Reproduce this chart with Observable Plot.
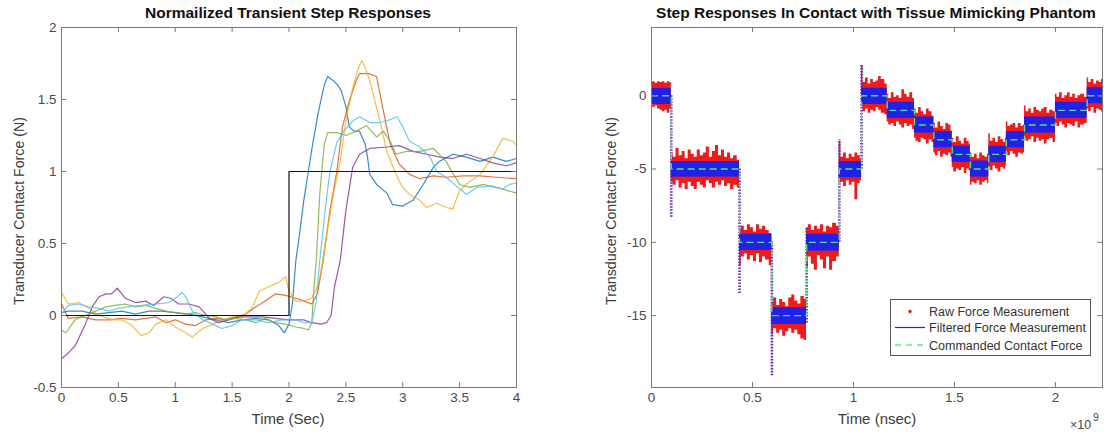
<!DOCTYPE html>
<html><head><meta charset="utf-8">
<script src="https://cdn.jsdelivr.net/npm/d3@7"></script>
<script src="https://cdn.jsdelivr.net/npm/@observablehq/plot@0.6"></script>
<style>
body{margin:0;background:#fff;}
#wrap{position:relative;width:1104px;height:436px;overflow:hidden;font-family:"Liberation Sans",Arial,sans-serif;}
#wrap svg.pl{position:absolute;top:0;}
.t{position:absolute;white-space:nowrap;line-height:1;}
.title{font-weight:bold;font-size:15.5px;color:#111;transform:translate(-50%,-50%);}
.xl{font-size:15px;color:#3c3c3c;transform:translate(-50%,-50%);}
.yl{font-size:14.2px;color:#3c3c3c;transform:translate(-50%,-50%) rotate(-90deg);}
</style>
</head><body>
<div id="wrap">
  <div class="t title" style="left:288px;top:13px">Normailized Transient Step Responses</div>
  <div class="t title" style="left:876px;top:13px">Step Responses In Contact with Tissue Mimicking Phantom</div>
  <div class="t xl" style="left:288px;top:418px">Time (Sec)</div>
  <div class="t xl" style="left:877px;top:418px">Time (nsec)</div>
  <div class="t yl" style="left:19px;top:211px">Transducer Contact Force (N)</div>
  <div class="t yl" style="left:611px;top:211px">Transducer Contact Force (N)</div>
  <div class="t" style="left:1070px;top:419px;font-size:12.5px;color:#4a4a4a">×10</div>
  <div class="t" style="left:1093px;top:412px;font-size:10.5px;color:#4a4a4a">9</div>
</div>
<script>
// ---------- Left chart: normalized transient step responses ----------
const leftXTicks = [0,0.5,1,1.5,2,2.5,3,3.5,4];
const leftYTicks = [-0.5,0,0.5,1,1.5,2];

const stepT = [0,2,2,4];
const stepF = [0,0,1,1];

const blueT = [0,0.06,0.18,0.30,0.42,0.53,0.65,0.77,0.88,1.00,1.12,1.24,1.36,1.47,1.59,1.71,1.82,1.91,1.96,2.00,2.03,2.06,2.09,2.13,2.17,2.21,2.26,2.31,2.34,2.39,2.43,2.46,2.50,2.53,2.57,2.62,2.67,2.69,2.71,2.77,2.86,2.91,3.00,3.09,3.18,3.27,3.32,3.44,3.56,3.68,3.79,3.91,4.00];
const blueF = [0.02,0.03,0.03,0.01,0.02,0.03,0.01,0.03,0.03,0.02,0.01,-0.01,-0.03,-0.05,-0.03,-0.02,-0.03,-0.07,-0.12,-0.06,0.08,0.38,0.55,0.80,1.00,1.20,1.42,1.60,1.66,1.63,1.60,1.56,1.45,1.31,1.28,1.28,1.19,1.10,0.98,0.91,0.85,0.77,0.76,0.80,0.91,1.03,1.07,1.12,1.10,1.07,1.10,1.07,1.09];

const redT = [0,0.06,0.18,0.30,0.42,0.53,0.65,0.74,0.83,0.92,1.00,1.09,1.18,1.27,1.36,1.44,1.53,1.62,1.71,1.79,1.88,1.97,2.06,2.13,2.20,2.25,2.30,2.36,2.42,2.47,2.53,2.59,2.62,2.70,2.77,2.83,2.89,2.97,3.06,3.15,3.27,3.38,3.53,3.68,3.82,4.00];
const redF = [0.08,-0.02,-0.01,-0.03,-0.03,-0.02,-0.03,-0.02,-0.01,-0.05,-0.03,-0.06,-0.07,-0.03,-0.02,-0.03,-0.01,0.01,0.06,0.10,0.15,0.14,0.12,0.10,0.08,0.15,0.38,0.73,1.00,1.31,1.49,1.63,1.68,1.68,1.66,1.42,1.19,1.05,0.98,0.95,0.97,0.96,0.97,0.97,0.96,0.95];

const yelT = [0,0.06,0.15,0.24,0.33,0.45,0.53,0.62,0.70,0.77,0.83,0.92,1.00,1.09,1.15,1.24,1.33,1.41,1.50,1.59,1.68,1.74,1.82,1.91,1.97,2.00,2.06,2.12,2.20,2.25,2.28,2.33,2.39,2.45,2.50,2.56,2.61,2.64,2.67,2.71,2.80,2.86,2.93,2.99,3.06,3.15,3.21,3.30,3.38,3.44,3.50,3.59,3.68,3.79,3.88,3.97,4.00];
const yelF = [0.16,0.08,0.09,0.05,0.00,-0.03,-0.03,-0.07,-0.14,-0.12,-0.06,-0.03,-0.08,-0.12,-0.15,-0.09,-0.06,-0.03,-0.01,-0.01,0.06,0.17,0.20,0.23,0.27,0.17,0.10,0.10,0.12,0.20,0.30,0.56,0.84,1.07,1.35,1.58,1.72,1.77,1.72,1.63,1.35,1.14,1.00,0.90,0.84,0.80,0.75,0.78,0.75,0.74,0.87,0.93,0.98,1.10,1.23,1.21,1.18];

const purT = [0,0.06,0.12,0.21,0.27,0.33,0.39,0.44,0.49,0.56,0.65,0.74,0.81,0.90,0.96,1.03,1.12,1.21,1.30,1.38,1.47,1.56,1.65,1.77,1.88,2.00,2.13,2.20,2.28,2.33,2.37,2.40,2.45,2.50,2.56,2.62,2.71,2.86,2.97,3.09,3.21,3.33,3.44,3.56,3.68,3.79,3.91,4.00];
const purF = [-0.30,-0.26,-0.21,-0.06,0.06,0.13,0.15,0.15,0.19,0.12,0.09,0.10,0.07,0.13,0.12,0.08,0.08,0.06,-0.02,-0.05,-0.03,-0.01,-0.01,-0.01,-0.02,-0.03,-0.03,-0.05,-0.06,-0.05,0.00,0.20,0.38,0.73,1.03,1.12,1.16,1.17,1.18,1.14,1.12,1.10,1.09,1.12,1.09,1.06,1.04,1.06];

const grnT = [0,0.04,0.12,0.21,0.30,0.39,0.47,0.56,0.65,0.74,0.83,0.92,1.00,1.09,1.18,1.27,1.36,1.44,1.53,1.62,1.71,1.79,1.88,1.97,2.06,2.13,2.17,2.20,2.22,2.24,2.27,2.31,2.34,2.42,2.50,2.59,2.68,2.77,2.83,2.89,2.94,3.03,3.15,3.27,3.38,3.50,3.59,3.71,3.82,4.00];
const grnF = [-0.10,-0.12,-0.03,0.00,0.03,0.06,0.07,0.08,0.06,0.07,0.05,0.03,0.02,0.01,0.02,0.00,-0.01,-0.03,-0.02,-0.03,-0.05,-0.02,-0.05,-0.06,-0.08,-0.09,-0.10,-0.05,0.20,0.38,0.84,1.19,1.27,1.27,1.25,1.28,1.32,1.24,1.28,1.21,1.12,1.14,1.14,1.16,1.07,0.91,0.89,0.91,0.89,0.85];

const cyaT = [0,0.06,0.15,0.24,0.33,0.42,0.50,0.59,0.71,0.83,0.94,1.02,1.06,1.10,1.15,1.24,1.33,1.41,1.50,1.59,1.71,1.82,1.94,2.06,2.13,2.20,2.24,2.27,2.32,2.36,2.42,2.48,2.56,2.62,2.71,2.80,2.89,2.95,3.00,3.06,3.15,3.24,3.30,3.38,3.47,3.56,3.65,3.77,3.88,3.94,4.00];
const cyaF = [0.01,0.07,0.08,0.06,0.05,0.03,0.05,0.06,0.07,0.08,0.09,0.13,0.16,0.12,0.03,-0.03,-0.06,-0.09,-0.07,-0.03,-0.03,-0.05,-0.03,-0.03,-0.05,-0.05,0.10,0.38,0.75,1.00,1.20,1.28,1.35,1.38,1.34,1.34,1.36,1.38,1.31,1.21,1.17,1.10,1.00,0.96,0.90,0.84,0.89,0.90,0.88,0.91,0.92];

const seriesColors = ["#0072BD","#D95319","#EDB120","#7E2F8E","#77AC30","#4DBEEE"];

// ---------- Right chart: step responses in contact with phantom (time in 1e9 nsec) ----------
const rightXTicks = [0,0.5,1,1.5,2];
const rightYTicks = [-15,-10,-5,0];

// commanded contact force (plateau start times, levels)
const cmdT = [0,0.098,0.436,0.596,0.768,0.930,1.040,1.167,1.302,1.398,1.489,1.579,1.670,1.757,1.847,2.000,2.157,2.233];
const cmdF = [0,-5,-10,-15,-10,-5,0,-1,-2,-3,-4,-5,-4,-3,-2,-1,0,0];

// filtered force band per plateau (upper / lower extent)
const filtHi = [0.5,-4.5,-9.45,-14.45,-9.45,-4.5,0.5,-0.45,-1.45,-2.45,-3.45,-4.45,-3.45,-2.45,-1.45,-0.45,0.55];
const filtLo = [-0.6,-5.55,-10.55,-15.6,-10.6,-5.6,-0.6,-1.55,-2.55,-3.55,-4.55,-5.55,-4.55,-3.55,-2.55,-1.55,-0.55];

// raw force measurement envelope
const rawT = [
  0.000,0.012,0.024,0.036,0.048,0.060,0.072,0.084,0.097,
  0.099,0.114,0.129,0.144,0.159,0.174,0.189,0.204,0.219,0.234,0.249,0.264,0.279,0.294,0.309,0.324,0.339,0.354,0.369,0.384,0.399,0.414,0.435,
  0.437,0.452,0.467,0.482,0.497,0.512,0.527,0.542,0.557,0.572,0.594,
  0.597,0.612,0.627,0.642,0.657,0.672,0.687,0.702,0.717,0.732,0.747,0.766,
  0.769,0.784,0.799,0.814,0.829,0.844,0.859,0.874,0.889,0.904,0.928,
  0.931,0.944,0.958,0.972,0.986,1.000,1.014,1.028,1.039,
  1.041,1.053,1.066,1.079,1.092,1.105,1.118,1.131,1.144,1.166,
  1.168,1.181,1.194,1.207,1.220,1.233,1.246,1.259,1.272,1.285,1.301,
  1.303,1.316,1.329,1.342,1.355,1.368,1.381,1.397,
  1.399,1.412,1.425,1.438,1.451,1.464,1.477,1.488,
  1.490,1.503,1.516,1.529,1.542,1.555,1.568,1.578,
  1.580,1.593,1.606,1.619,1.632,1.645,1.658,1.669,
  1.671,1.684,1.697,1.710,1.723,1.736,1.749,1.756,
  1.758,1.771,1.784,1.797,1.810,1.823,1.836,1.846,
  1.848,1.861,1.874,1.887,1.900,1.913,1.926,1.939,1.952,1.965,1.978,1.999,
  2.001,2.014,2.027,2.040,2.053,2.066,2.079,2.092,2.105,2.118,2.131,2.156,
  2.158,2.171,2.184,2.197,2.210,2.223,2.233];
const rawHi = [
  0.90,0.95,0.85,0.95,0.90,0.95,0.85,0.95,0.90,
  -3.9,-4.2,-3.6,-4.1,-3.8,-4.3,-3.7,-4.0,-4.2,-3.7,-4.1,-3.9,-3.5,-4.2,-3.8,-3.4,-4.1,-3.7,-4.2,-3.9,-4.3,-4.1,-4.4,
  -9.1,-8.9,-9.2,-8.8,-9.0,-9.3,-8.8,-9.1,-8.9,-9.2,-9.4,
  -14.2,-13.8,-14.3,-13.9,-14.1,-14.4,-13.8,-13.6,-14.0,-14.2,-13.7,-13.9,
  -9.0,-8.8,-9.2,-8.9,-9.1,-8.8,-9.3,-8.9,-9.0,-8.7,-8.9,
  -3.1,-4.2,-3.9,-4.3,-4.0,-4.2,-3.9,-4.1,-4.3,
  2.0,0.9,1.2,0.8,1.1,0.9,1.0,1.3,1.1,0.8,
  0.1,-0.2,0.2,-0.1,0.0,-0.2,0.4,0.1,-0.1,0.2,-0.2,
  -0.9,-1.2,-0.8,-1.1,-1.3,-0.9,-1.1,-1.4,
  -1.9,-2.2,-1.8,-2.1,-2.3,-1.9,-2.0,-2.4,
  -2.9,-3.2,-2.8,-3.1,-3.3,-2.9,-3.1,-3.3,
  -3.9,-4.2,-4.0,-4.3,-3.9,-4.1,-4.2,-4.0,
  -2.6,-3.1,-2.9,-3.2,-2.8,-3.0,-3.2,-2.9,
  -1.8,-2.1,-2.0,-1.9,-2.2,-1.9,-2.1,-2.0,
  -0.7,-1.1,-0.9,-1.2,-0.8,-1.0,-1.1,-0.9,-0.8,-1.2,-1.0,-1.1,
  0.1,-0.1,0.2,-0.2,0.0,0.2,-0.1,0.1,-0.2,0.0,0.1,-0.1,
  1.2,0.9,1.1,0.8,1.0,0.9,1.1];
const rawLo = [
  -0.6,-0.8,-0.7,-0.9,-1.0,-1.1,-1.0,-1.2,-0.9,
  -5.9,-6.1,-5.8,-6.3,-6.0,-6.4,-5.9,-6.2,-6.4,-5.9,-6.1,-6.3,-5.8,-6.0,-6.3,-5.9,-6.1,-5.8,-6.2,-6.0,-6.4,-6.1,-6.3,
  -11.6,-11.0,-10.8,-11.2,-10.9,-11.3,-10.8,-11.4,-11.0,-11.2,-11.6,
  -16.3,-15.9,-16.2,-16.0,-16.4,-16.1,-15.9,-16.2,-16.0,-16.3,-16.6,-16.7,
  -11.8,-11.0,-11.5,-11.9,-10.9,-11.2,-11.8,-11.0,-11.9,-11.3,-11.0,
  -6.0,-5.9,-6.2,-5.8,-6.1,-5.9,-7.1,-6.0,-5.8,
  -0.8,-1.1,-0.9,-1.2,-1.0,-1.1,-0.8,-1.0,-1.2,-1.3,
  -1.8,-2.0,-1.9,-2.1,-1.8,-2.0,-2.2,-1.9,-2.1,-2.0,-2.3,
  -2.9,-3.1,-3.2,-2.9,-3.0,-3.3,-3.0,-3.2,
  -3.9,-4.1,-3.8,-4.2,-4.0,-4.1,-3.9,-4.2,
  -4.9,-5.2,-5.0,-5.1,-4.9,-5.3,-5.0,-5.1,
  -6.1,-5.9,-6.0,-5.8,-6.1,-5.9,-5.8,-6.0,
  -4.9,-5.1,-4.8,-5.0,-5.2,-4.9,-5.0,-4.8,
  -3.9,-4.1,-3.8,-4.0,-4.2,-3.9,-4.0,-3.9,
  -2.9,-3.1,-3.0,-2.8,-3.2,-2.9,-3.1,-3.0,-3.3,-3.0,-2.9,-3.2,
  -1.9,-2.1,-1.8,-2.0,-2.2,-1.9,-2.0,-2.1,-1.8,-2.2,-2.0,-1.9,
  -0.9,-1.1,-0.8,-1.2,-0.9,-1.0,-1.1];

// transient spikes at the large steps (time, from, extreme)
const trT  = [0.098,0.436,0.596,0.768,0.930,1.040];
const trY1 = [0.0,-5.0,-10.0,-15.5,-10.0,-5.0];
const trY2 = [-8.3,-13.6,-19.1,-9.0,-3.0,2.1];

const legendLabels = ["Raw Force Measurement","Filtered Force Measurement","Commanded Contact Force"];

// ---------- build ----------
const zip = (xs, ys) => xs.slice(0, Math.min(xs.length, ys.length)).map((x, i) => ({x, y: ys[i]}));
const fmt = d => String(d);
const axisGray = "#7a7a7a";
const baseStyle = {fontFamily: "Liberation Sans, Arial, sans-serif", fontSize: "13.5px", color: "#4a4a4a", background: "transparent", overflow: "visible"};

function innerTicks(xt, yt, fw, fh) {
  const L = 5;
  return [
    Plot.tickX(xt, {x: d => d, insetTop: fh - L, stroke: axisGray}),
    Plot.tickX(xt, {x: d => d, insetBottom: fh - L, stroke: axisGray}),
    Plot.tickY(yt, {y: d => d, insetRight: fw - L, stroke: axisGray}),
    Plot.tickY(yt, {y: d => d, insetLeft: fw - L, stroke: axisGray})
  ];
}

const LM = {l: 61, r: 36, t: 27, b: 49};
const leftSeries = [[blueT,blueF],[redT,redF],[yelT,yelF],[purT,purF],[grnT,grnF],[cyaT,cyaF]];
const left = Plot.plot({
  width: 552, height: 436,
  marginLeft: LM.l, marginRight: LM.r, marginTop: LM.t, marginBottom: LM.b,
  style: baseStyle,
  x: {domain: [0, 4]},
  y: {domain: [-0.5, 2]},
  marks: [
    ...leftSeries.map(([t, f], k) => Plot.line(zip(t, f), {x: "x", y: "y", stroke: seriesColors[k], strokeWidth: 1.2, strokeOpacity: 0.8})),
    Plot.line(zip(stepT, stepF), {x: "x", y: "y", stroke: "#111", strokeWidth: 1.2}),
    Plot.frame({stroke: axisGray}),
    ...innerTicks(leftXTicks, leftYTicks, 552 - LM.l - LM.r, 436 - LM.t - LM.b),
    Plot.axisX({ticks: leftXTicks, tickFormat: fmt, tickSize: 0, tickPadding: 5, label: null}),
    Plot.axisY({ticks: leftYTicks, tickFormat: fmt, tickSize: 0, tickPadding: 5, label: null})
  ]
});

const RM = {l: 99, r: 2, t: 27, b: 49};
const rawRows = rawT.map((t, i) => ({t, hi: rawHi[i], lo: rawLo[i]}));
const platRows = filtHi.map((h, i) => ({x1: cmdT[i], x2: cmdT[i + 1], hi: h, lo: filtLo[i]}));
const trRows = trT.map((t, i) => ({t, y1: trY1[i], y2: trY2[i]}));
const right = Plot.plot({
  width: 552, height: 436,
  marginLeft: RM.l, marginRight: RM.r, marginTop: RM.t, marginBottom: RM.b,
  style: baseStyle,
  x: {domain: [0, 2.233]},
  y: {domain: [-19.9, 4.65]},
  marks: [
    Plot.areaY(rawRows, {x: "t", y1: "lo", y2: "hi", curve: "step", fill: "#f01a1a"}),
    Plot.ruleX(trRows, {x: "t", y1: "y1", y2: "y2", stroke: "#6a2ab8", strokeWidth: 2.6, strokeDasharray: "1.6,1.4"}),
    Plot.rect(platRows, {x1: "x1", x2: "x2", y1: "lo", y2: "hi", fill: "#2020e6"}),
    Plot.line(zip(cmdT, cmdF), {x: "x", y: "y", curve: "step-after", stroke: "#55e07a", strokeWidth: 1.4, strokeDasharray: "6,5"}),
    Plot.frame({stroke: axisGray}),
    ...innerTicks(rightXTicks, rightYTicks, 552 - RM.l - RM.r, 436 - RM.t - RM.b),
    Plot.axisX({ticks: rightXTicks, tickFormat: fmt, tickSize: 0, tickPadding: 5, label: null}),
    Plot.axisY({ticks: rightYTicks, tickFormat: fmt, tickSize: 0, tickPadding: 5, label: null})
  ]
});

const wrap = document.getElementById("wrap");
left.classList.add("pl"); left.style.left = "0px";
right.classList.add("pl"); right.style.left = "552px";
wrap.prepend(right);
wrap.prepend(left);

// legend box (right chart)
const ns = "http://www.w3.org/2000/svg";
const lg = document.createElementNS(ns, "svg");
lg.setAttribute("width", 203); lg.setAttribute("height", 59);
lg.style.cssText = "position:absolute;left:889px;top:298px;font-family:'Liberation Sans',Arial,sans-serif";
const rowsY = [13.5, 29.5, 47];
let html = `<rect x="1.5" y="1.5" width="200" height="56" fill="#fff" stroke="#555" stroke-width="1"/>`;
html += `<circle cx="21" cy="${rowsY[0]}" r="1.7" fill="#e02020"/>`;
html += `<line x1="6" x2="36" y1="${rowsY[1]}" y2="${rowsY[1]}" stroke="#2020e6" stroke-width="1.2"/>`;
html += `<line x1="6" x2="36" y1="${rowsY[2]}" y2="${rowsY[2]}" stroke="#66e88a" stroke-width="1.4" stroke-dasharray="6,5"/>`;
legendLabels.forEach((s, i) => {
  html += `<text x="40" y="${rowsY[i]}" dy="0.36em" font-size="12.5" fill="#333">${s}</text>`;
});
lg.innerHTML = html;
wrap.appendChild(lg);
</script>
</body></html>
